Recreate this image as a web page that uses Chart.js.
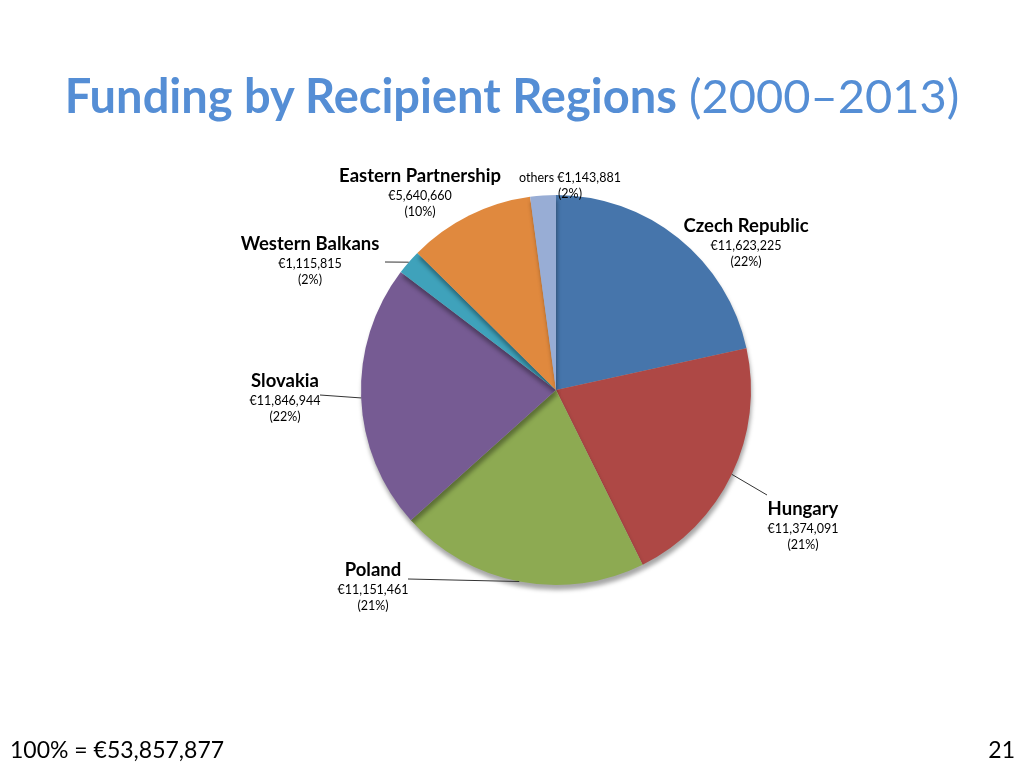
<!DOCTYPE html>
<html>
<head>
<meta charset="utf-8">
<script src="https://cdn.jsdelivr.net/npm/chart.js@4/dist/chart.umd.min.js"></script>
<style>
  html, body { margin: 0; padding: 0; background: #fff; }
  #wrap { position: relative; width: 1024px; height: 768px; overflow: hidden; font-family: Lato, "Noto Sans", sans-serif; }
  #chart { position: absolute; left: 0; top: 0; }
  .title { position: absolute; left: 0; width: 1024px; top: 67px; text-align: center; color: #558ED5; font-size: 47px; line-height: 56px; white-space: nowrap; }
  .title b { font-weight: 700; }
  .title span { font-weight: 400; }
  .foot { position: absolute; top: 735px; font-size: 23px; line-height: 28px; color: #000; }
</style>
</head>
<body>
<div id="wrap">
  <canvas id="chart" width="1024" height="768"></canvas>
  <div class="title"><b>Funding by Recipient Regions</b> <span>(2000–2013)</span></div>
  <div class="foot" style="left:10px">100% = €53,857,877</div>
  <div class="foot" style="right:9px">21</div>
</div>
<script>
const regions = ["Czech Republic", "Hungary", "Poland", "Slovakia", "Western Balkans", "Eastern Partnership", "others"];
const funding = [11623225, 11374091, 11151461, 11846944, 1115815, 5640660, 1143881];
const sliceColors = ["#4675AB", "#AE4845", "#8DAA52", "#765B93", "#3FA2BB", "#E0893E", "#98ADD5"];

// label placement (center of first text line) and optional leader-line start
const labelLayout = [
  { x: 746, y: 226 },
  { x: 803, y: 509, lead: [767, 495] },
  { x: 373, y: 570, lead: [408, 579] },
  { x: 285, y: 381, lead: [320, 395] },
  { x: 310, y: 244, lead: [385, 262] },
  { x: 420, y: 176 },
  { x: 570, y: 178, inline: true },
];

const total = funding.reduce((a, b) => a + b, 0);
const fmt = (v) => "€" + v.toLocaleString("en-US");

const shadowPlugin = {
  id: "shadow",
  beforeDatasetsDraw(chart) {
    const ctx = chart.ctx;
    ctx.save();
    ctx.shadowColor = "rgba(0,0,0,0.35)";
    ctx.shadowOffsetY = 5;
    ctx.shadowOffsetX = 1;
    ctx.shadowBlur = 4;
  },
  afterDatasetsDraw(chart) {
    chart.ctx.restore();
  },
};

const labelPlugin = {
  id: "sliceLabels",
  afterDatasetsDraw(chart) {
    const ctx = chart.ctx;
    const arcs = chart.getDatasetMeta(0).data;
    ctx.save();
    ctx.textAlign = "center";
    ctx.textBaseline = "middle";
    ctx.fillStyle = "#000";
    arcs.forEach((arc, i) => {
      const lay = labelLayout[i];
      const pct = "(" + Math.round((funding[i] / total) * 100) + "%)";
      if (lay.lead) {
        const mid = (arc.startAngle + arc.endAngle) / 2;
        const ex = arc.x + Math.cos(mid) * arc.outerRadius;
        const ey = arc.y + Math.sin(mid) * arc.outerRadius;
        ctx.strokeStyle = "#333";
        ctx.lineWidth = 1;
        ctx.beginPath();
        ctx.moveTo(lay.lead[0], lay.lead[1]);
        ctx.lineTo(ex, ey);
        ctx.stroke();
      }
      if (lay.inline) {
        ctx.font = "12.5px Lato";
        ctx.fillText(regions[i] + " " + fmt(funding[i]), lay.x, lay.y);
        ctx.fillText(pct, lay.x, lay.y + 16);
      } else {
        ctx.font = "bold 18.5px Lato";
        ctx.fillText(regions[i], lay.x, lay.y);
        ctx.font = "12.5px Lato";
        ctx.fillText(fmt(funding[i]), lay.x, lay.y + 20);
        ctx.fillText(pct, lay.x, lay.y + 36);
      }
    });
    ctx.restore();
  },
};

new Chart(document.getElementById("chart"), {
  type: "pie",
  data: {
    labels: regions,
    datasets: [{
      data: funding,
      backgroundColor: sliceColors,
      borderWidth: 0,
    }],
  },
  options: {
    responsive: false,
    animation: false,
    layout: { padding: { left: 361, right: 273, top: 195, bottom: 183 } },
    plugins: {
      legend: { display: false },
      tooltip: { enabled: false },
    },
  },
  plugins: [shadowPlugin, labelPlugin],
});
</script>
</body>
</html>
